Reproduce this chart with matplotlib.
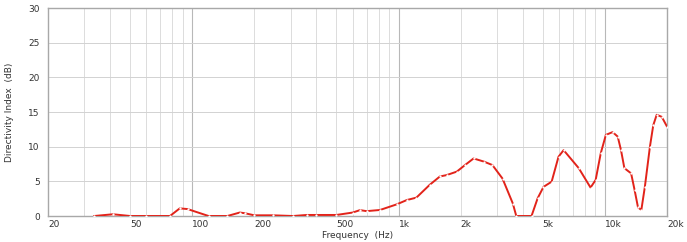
import matplotlib
matplotlib.use("Agg")
import matplotlib.pyplot as plt
import numpy as np
from matplotlib.ticker import FixedLocator, NullFormatter

# directivity index (Hz, dB)
freq = [33.5, 41.3, 50, 60, 78, 87, 95, 120, 148, 170, 180, 200, 246, 308,
        359, 400, 500, 600, 650, 700, 813, 980, 1096, 1220, 1416, 1586, 1710,
        1915, 2100, 2310, 2590, 2850, 3190, 3580, 3720, 4410, 4720, 5040,
        5520, 5960, 6310, 7470, 8520, 9020, 9550, 10110, 10900, 11540, 11970,
        12430, 13400, 13930, 14470, 15020, 15620, 16530, 17160, 17830, 18870,
        20000]
di = [0.0, 0.25, 0.0, 0.0, 0.0, 1.1, 1.0, 0.0, 0.0, 0.5, 0.4, 0.1, 0.1, 0.0,
      0.15, 0.15, 0.15, 0.5, 0.85, 0.7, 0.87, 1.68, 2.3, 2.65, 4.5, 5.7, 5.9,
      6.4, 7.35, 8.3, 7.85, 7.35, 5.4, 1.8, 0.0, 0.0, 2.55, 4.2,
      4.95, 8.55, 9.5, 6.9, 4.1, 5.2, 9.05, 11.7, 12.1, 11.45, 9.5,
      6.9, 6.15, 3.75, 1.25, 0.87, 4.2, 10.0, 13.1, 14.6, 14.3,
      12.9]

xticks = [20, 50, 100, 200, 500, 1000, 2000, 5000, 10000, 20000]
xtick_labels = ['20', '50', '100', '200', '500', '1k', '2k', '5k', '10k', '20k']
yticks = [0, 5, 10, 15, 20, 25, 30]

fig = plt.figure(figsize=(6.87, 2.42), dpi=100)
ax = fig.add_axes([48/687, 26/242, 619/687, 208/242])

# grid lines
minors = [m*10**d for d in range(1, 5) for m in range(2, 10)]
minors = [v for v in minors if 20 < v < 20000]
for v in minors:
    ax.axvline(v, color='#dcdcdc', lw=0.7, zorder=0)
for v in [100, 1000, 10000]:
    ax.axvline(v, color='#b8b8b8', lw=0.8, zorder=0)
for v in yticks[1:-1]:
    ax.axhline(v, color='#d2d2d2', lw=0.7, zorder=0)

ax.plot(freq, di, color='#e2231a', lw=1.4, zorder=3,
        marker='o', ms=1.6, mfc='white', mec='none')

ax.set_xscale('log')
ax.set_xlim(20, 20000)
ax.set_ylim(0, 30)
ax.xaxis.set_major_locator(FixedLocator(xticks))
ax.xaxis.set_minor_formatter(NullFormatter())
ax.set_xticks(xticks)
ax.set_xticklabels(xtick_labels, ha='left')
ax.set_yticks(yticks)
ax.tick_params(axis='both', which='both', length=0, labelsize=6.5,
               colors='#333333')
ax.tick_params(axis='x', pad=3)
ax.tick_params(axis='y', pad=6)

for s in ax.spines.values():
    s.set_color('#a8a8a8')
    s.set_linewidth(1.0)

ax.set_xlabel('Frequency  (Hz)', fontsize=6.5, color='#333333', labelpad=1)
ax.set_ylabel('Directivity Index  (dB)', fontsize=6.5, color='#333333',
              labelpad=10)

fig.savefig('out.png', dpi=100)
